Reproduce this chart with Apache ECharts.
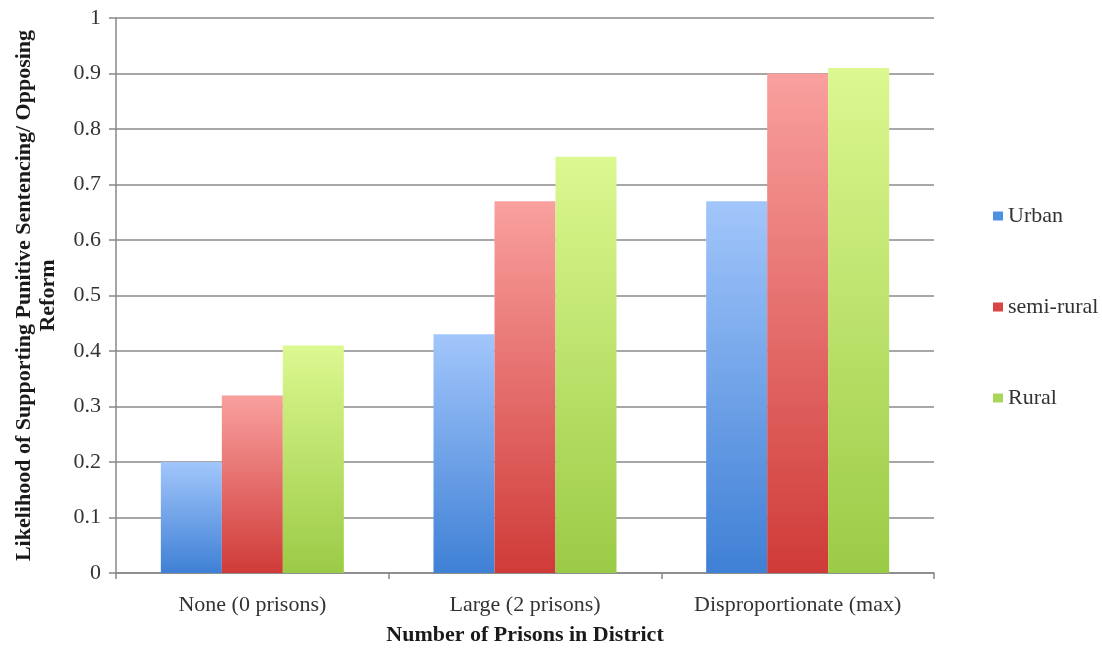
<!DOCTYPE html>
<html>
<head>
<meta charset="utf-8">
<script src="https://cdn.jsdelivr.net/npm/echarts@6/dist/echarts.min.js"></script>
<style>html,body{margin:0;padding:0;background:#fff}#c{width:1102px;height:648px}</style>
</head>
<body>
<div id="c"></div>
<script>
const categories = ['None (0 prisons)', 'Large (2 prisons)', 'Disproportionate (max)'];
const urban = [0.2, 0.43, 0.67];
const semiRural = [0.32, 0.67, 0.9];
const rural = [0.41, 0.75, 0.91];
const yTicks = [0, 0.1, 0.2, 0.3, 0.4, 0.5, 0.6, 0.7, 0.8, 0.9, 1];

const font = '"Liberation Serif", "DejaVu Serif", serif';
function grad(top, bottom) {
  return new echarts.graphic.LinearGradient(0, 0, 0, 1, [
    { offset: 0, color: top }, { offset: 1, color: bottom }
  ]);
}
const chart = echarts.init(document.getElementById('c'));
chart.setOption({
  animation: false,
  backgroundColor: '#fff',
  textStyle: { fontFamily: font },
  grid: { left: 116, right: 168, top: 18, bottom: 75, containLabel: false, outerBoundsMode: 'none' },
  legend: {
    orient: 'vertical', left: 988, top: 200, itemGap: 69,
    itemWidth: 10, itemHeight: 9, icon: 'rect',
    textStyle: { fontFamily: font, fontSize: 22, color: '#333' },
    data: [
      { name: 'Urban', itemStyle: { color: '#4d8fe0' } },
      { name: 'semi-rural', itemStyle: { color: '#d94545' } },
      { name: 'Rural', itemStyle: { color: '#a8d65a' } }
    ]
  },
  xAxis: {
    type: 'category', data: categories,
    name: 'Number of Prisons in District', nameLocation: 'middle', nameGap: 51,
    nameTextStyle: { fontFamily: font, fontSize: 22, fontWeight: 'bold', color: '#1a1a1a' },
    axisLine: { lineStyle: { color: '#888', width: 1.5 } },
    axisTick: { show: true, length: 6, lineStyle: { color: '#888', width: 1.5 } },
    axisLabel: { fontFamily: font, fontSize: 22, color: '#333', margin: 21 }
  },
  yAxis: {
    type: 'value', min: 0, max: 1, interval: 0.1,
    name: 'Likelihood of Supporting Punitive Sentencing/ Opposing\nReform',
    nameLocation: 'middle', nameGap: 56, nameRotate: 90,
    nameTextStyle: { fontFamily: font, fontSize: 22, fontWeight: 'bold', color: '#1a1a1a', lineHeight: 24 },
    axisLine: { show: true, lineStyle: { color: '#888', width: 1.5 } },
    axisTick: { show: true, length: 7, lineStyle: { color: '#888', width: 1.5 } },
    axisLabel: { fontFamily: font, fontSize: 22, color: '#333', margin: 15,
      formatter: v => { const t = yTicks.find(x => Math.abs(x - v) < 1e-9); return t === undefined ? '' : String(t); } },
    splitLine: { lineStyle: { color: '#8a8a8a', width: 1.5 } }
  },
  series: [
    { name: 'Urban', type: 'bar', data: urban, barWidth: 61, barGap: '0%',
      itemStyle: { color: grad('#a2c6fb', '#3f80d5') } },
    { name: 'semi-rural', type: 'bar', data: semiRural, barWidth: 61, barGap: '0%',
      itemStyle: { color: grad('#f9a09e', '#cf3b38') } },
    { name: 'Rural', type: 'bar', data: rural, barWidth: 61, barGap: '0%',
      itemStyle: { color: grad('#dcf890', '#9bcb46') } }
  ]
});
</script>
</body>
</html>
